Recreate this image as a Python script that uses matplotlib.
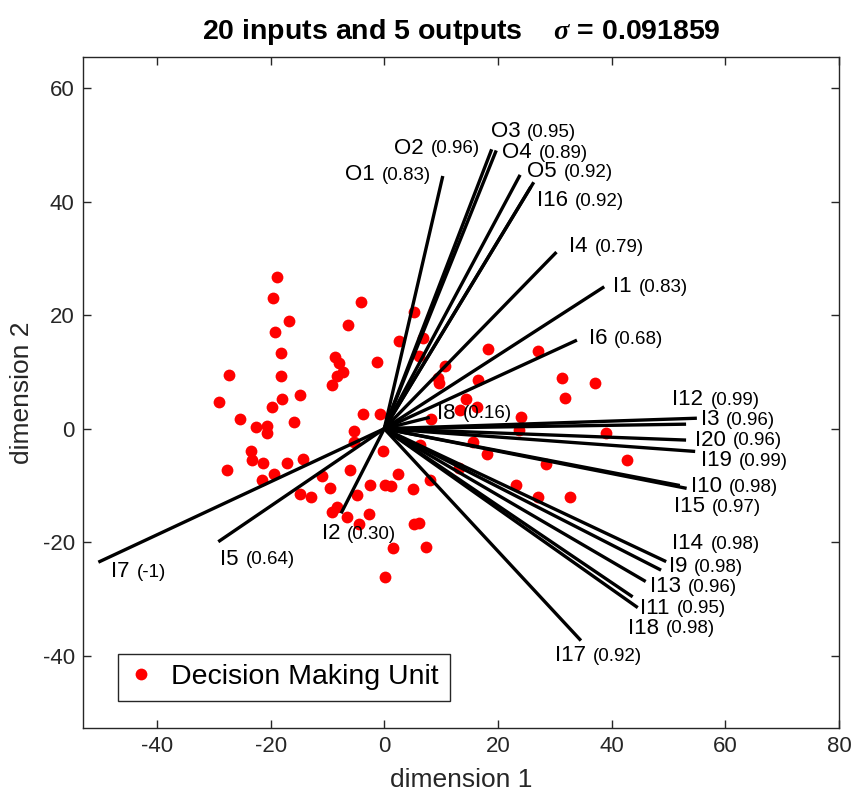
import numpy as np
import matplotlib
matplotlib.use('Agg')
import matplotlib.pyplot as plt

plt.rcParams['font.family'] = ['Liberation Sans', 'DejaVu Sans']
plt.rcParams['mathtext.fontset'] = 'custom'
plt.rcParams['mathtext.it'] = 'Liberation Serif:italic:bold'
plt.rcParams['mathtext.rm'] = 'Liberation Sans:bold'
plt.rcParams['axes.unicode_minus'] = False

# DMU scores (dimension 1, dimension 2)
dmu_x = [-18.9, -19.5, -16.8, -19.3, -18.2, -18.2, -27.3, -29.0, -18.0, -19.8,
         -14.8, -25.3, -22.6, -20.7, -20.6, -15.8, -23.5, -23.3, -21.3, -17.1,
         -14.3, -27.7, -4.1, -6.3, -8.6, -8.0, -7.3, -8.3, -9.2, -1.3,
         -3.8, -0.7, -5.4, -5.4, -0.2, 5.3, 2.6, 6.9, 6.1, 8.2,
         -6.0, -19.4, -21.5, -11.0, -14.9, -12.9, -9.6, -2.5, -4.8, -8.3,
         -9.2, -6.5, -2.6, -4.4, 2.5, 0.2, 1.1, 5.0, 8.1, 5.2,
         6.2, 1.5, 7.4, 0.1, 6.3, 18.0, 28.4, 42.7, 23.1, 27.1,
         32.7, 13.1, 10.6, 18.3, 27.1, 9.4, 9.6, 16.5, 31.3, 37.1,
         31.8, 14.3, 13.3, 16.3, 24.0, 23.7, 15.7, 39.1]
dmu_y = [26.8, 23.0, 19.0, 17.0, 13.4, 9.2, 9.5, 4.7, 5.2, 3.8,
         6.0, 1.7, 0.3, 0.5, -0.7, 1.2, -3.9, -5.5, -6.1, -6.1,
         -5.3, -7.3, 22.3, 18.2, 12.7, 11.5, 9.9, 9.2, 7.7, 11.7,
         2.6, 2.6, -0.4, -2.3, -4.0, 20.5, 15.5, 15.9, 12.8, 1.7,
         -7.3, -8.0, -9.1, -8.3, -11.5, -12.1, -10.5, -9.9, -11.7, -13.8,
         -14.6, -15.5, -15.0, -16.8, -8.0, -9.9, -10.1, -10.6, -9.1, -16.8,
         -16.6, -21.0, -20.9, -26.1, -2.9, -4.4, -6.2, -5.5, -9.9, -12.1,
         -12.0, -7.0, 11.1, 14.0, 13.6, 8.9, 8.0, 8.6, 9.0, 8.1,
         5.4, 5.2, 3.3, 3.8, 2.1, -0.2, -2.3, -0.8]

# variable vectors: name, correlation, end point
var_names = ['O1', 'O2', 'O3', 'O4', 'O5', 'I16', 'I4', 'I1', 'I6', 'I8',
             'I12', 'I3', 'I20', 'I19', 'I10', 'I15', 'I14', 'I9', 'I13', 'I11',
             'I18', 'I17', 'I7', 'I5', 'I2']
var_corr = ['0.83', '0.96', '0.95', '0.89', '0.92', '0.92', '0.79', '0.83', '0.68', '0.16',
            '0.99', '0.96', '0.96', '0.99', '0.98', '0.97', '0.98', '0.98', '0.96', '0.95',
            '0.98', '0.92', '-1', '0.64', '0.30']
var_x = [10.3, 18.9, 19.7, 23.9, 26.3, 25.8, 30.3, 38.7, 33.9, 8.0,
         55.0, 53.1, 53.1, 54.7, 53.2, 52.0, 49.6, 48.7, 46.0, 44.6,
         43.7, 34.6, -50.3, -29.2, -7.6]
var_y = [44.5, 49.2, 49.0, 44.7, 43.4, 42.6, 31.1, 25.0, 15.6, 2.0,
         1.85, 0.8, -2.0, -4.0, -10.5, -10.0, -23.4, -24.9, -26.9, -31.5,
         -29.6, -37.3, -23.5, -19.9, -14.9]

# where each label sits (left edge, centre)
lab_x = [-6.9, 1.8, 18.7, 20.8, 25.2, 26.9, 32.5, 40.3, 36.0, 9.3,
         50.7, 55.7, 54.7, 55.7, 54.0, 51.0, 50.7, 50.1, 46.8, 45.0,
         42.9, 30.0, -48.0, -28.9, -11.0]
lab_y = [44.7, 49.4, 52.3, 48.6, 45.3, 40.1, 32.0, 25.0, 15.8, 2.7,
         5.1, 1.6, -2.0, -5.6, -10.2, -13.7, -20.2, -24.3, -27.8, -31.6,
         -35.1, -40.0, -25.2, -23.0, -18.5]

fig = plt.figure(figsize=(8.54, 7.98), dpi=100)
ax = fig.add_axes([0.0972, 0.0877, 0.8852, 0.8405])

ax.plot(dmu_x, dmu_y, 'o', color='red', markersize=8.5, markeredgewidth=0,
        label='Decision Making Unit', zorder=2)

for i in range(len(var_names)):
    ax.plot([0, var_x[i]], [0, var_y[i]], color='black', lw=2.4,
            solid_capstyle='butt', zorder=3)
    t = ax.text(lab_x[i], lab_y[i], var_names[i], fontsize=16, va='center',
                ha='left', zorder=4)
    ax.annotate('(' + var_corr[i] + ')', xy=(1, 0), xycoords=t,
                xytext=(5, 1), textcoords='offset points', fontsize=13.5,
                va='bottom', ha='left', zorder=4)

ax.set_xlim(-53, 80)
ax.set_ylim(-52.7, 65.4)
ax.set_xticks([-40, -20, 0, 20, 40, 60, 80])
ax.set_yticks([-40, -20, 0, 20, 40, 60])
ax.tick_params(direction='in', top=True, right=True, length=6, width=1,
               labelsize=16, colors='#262626', pad=6)
for s in ax.spines.values():
    s.set_color('#262626')
    s.set_linewidth(1)

ax.set_xlabel('dimension 1', fontsize=19, color='#262626', labelpad=8)
ax.set_ylabel('dimension 2', fontsize=19, color='#262626', labelpad=6)
ax.set_title(r'20 inputs and 5 outputs    $\sigma$ = 0.091859',
             fontsize=20.5, fontweight='bold', pad=13)

leg = ax.legend(loc='lower left', bbox_to_anchor=(0.046, 0.04), fontsize=20.5,
                frameon=True, fancybox=False, edgecolor='#262626',
                borderaxespad=0, handlelength=0.9, handletextpad=0.6,
                borderpad=0.38, markerscale=1.0)
leg.get_frame().set_linewidth(1)
leg.get_frame().set_alpha(1)

plt.savefig('out.png', dpi=100)
